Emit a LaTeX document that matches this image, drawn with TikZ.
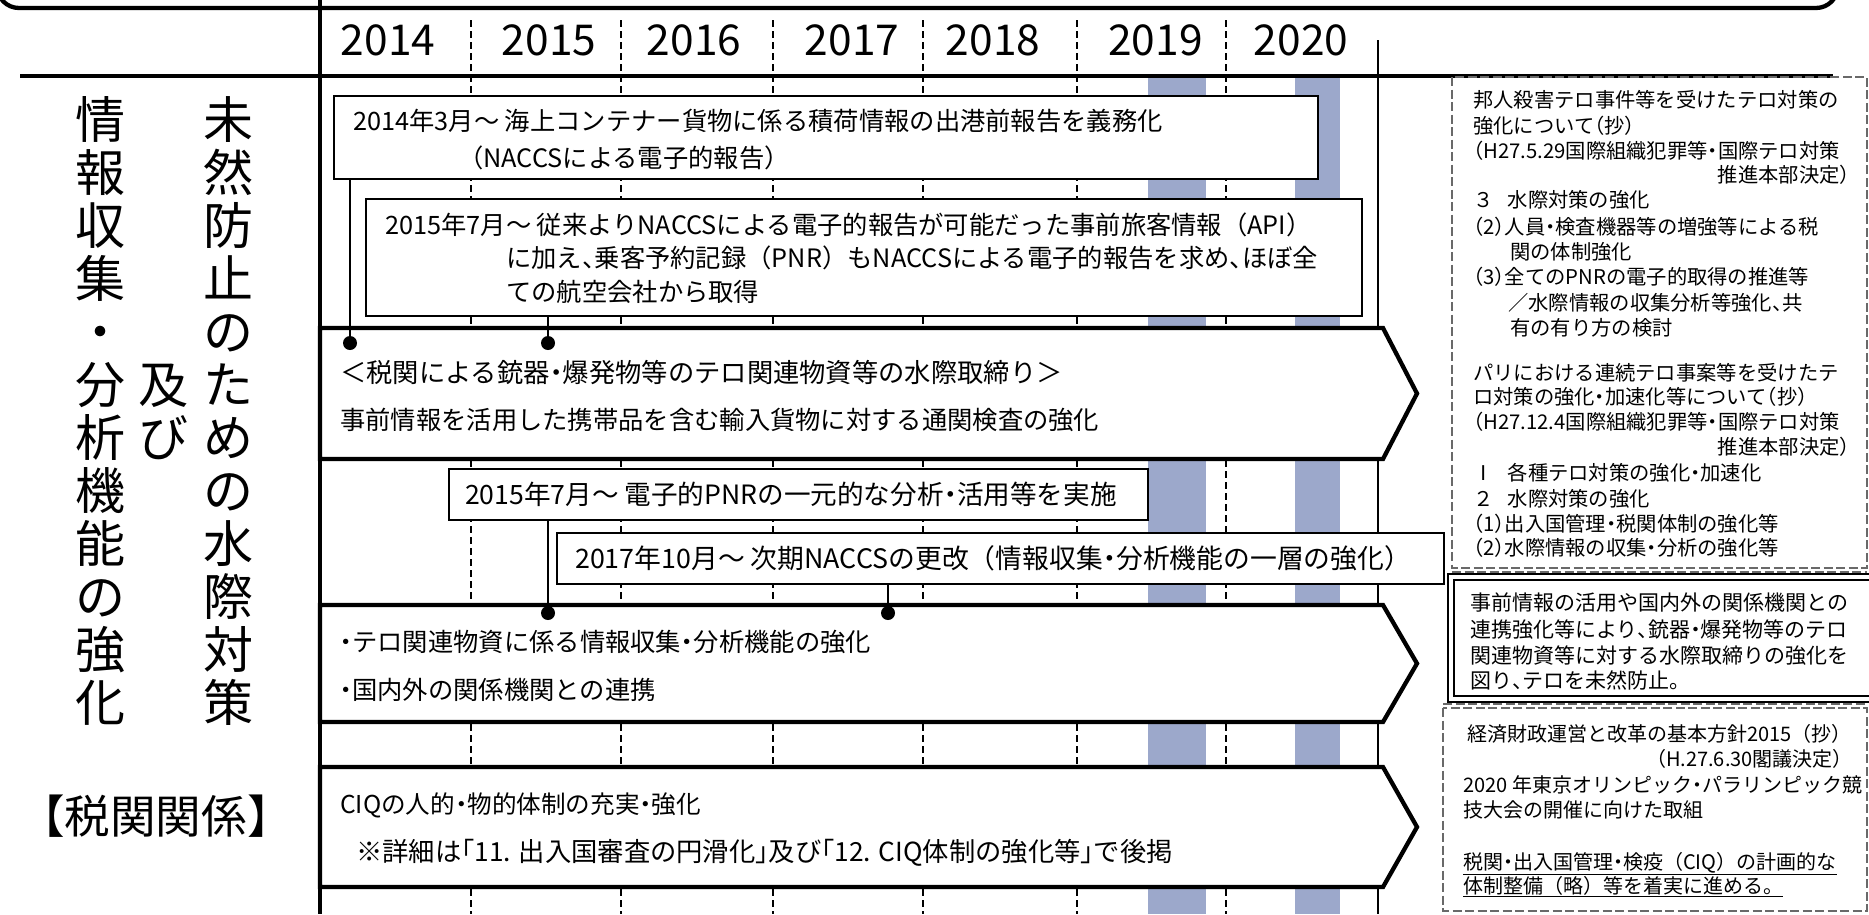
\documentclass[tikz,border=0pt]{standalone}
\usepackage{fontspec}
\setmainfont{Noto Sans CJK JP}
\definecolor{shadecol}{RGB}{156,168,203}
\definecolor{dgray}{RGB}{105,105,105}
\newcommand{\hdot}{\makebox[0.5em][c]{・}}
\newcommand{\hcomma}{\makebox[0.5em][l]{、}}
\newcommand{\hlp}{\makebox[0.5em][r]{（}}
\newcommand{\hrp}{\makebox[0.5em][l]{）}}
\newcommand{\hlb}{\makebox[0.5em][r]{「}}
\newcommand{\hrb}{\makebox[0.5em][l]{」}}
\tikzset{
 heavy/.style={line width=4.3pt},
 divider/.style={line width=1.3pt, dash pattern=on 7pt off 4pt},
 shadecolumn/.style={fill=shadecol, draw=none},
 evbox/.style={draw, fill=white, line width=1.7pt, inner sep=0pt, anchor=north west},
 chev/.style={draw, fill=white, line width=4.3pt, line join=miter, miter limit=10},
 conn/.style={line width=1.8pt},
 dotnode/.style={circle, fill=black, inner sep=0pt, minimum size=14pt},
 tl/.style={font=\fontsize{25.3}{30}\selectfont, inner sep=0pt, anchor=base west},
 tlsize/.style={font=\fontsize{#1}{30}\selectfont},
 yr/.style={font=\fontsize{42.5}{45}\selectfont, inner sep=0pt, anchor=base},
 vchar/.style={font=\fontsize{50}{50}\selectfont, inner sep=0pt, text height=0.88em, text depth=0.12em},
 rp/.style={font=\fontsize{20.3}{24}\selectfont, inner sep=0pt, anchor=base west},
 rpe/.style={rp, anchor=base east},
 dbx/.style={font=\fontsize{21}{24}\selectfont, inner sep=0pt, anchor=base west},
 bxt/.style={font=\fontsize{20}{24}\selectfont, inner sep=0pt, anchor=base west},
 bxte/.style={bxt, anchor=base east},
 dashbox/.style={draw=dgray, line width=1.3pt, dash pattern=on 9pt off 3.5pt},
 bigl/.style={font=\fontsize{45.6}{50}\selectfont, inner sep=0pt},
}
\begin{document}
\begin{tikzpicture}[x=1pt,y=-1pt]
\useasboundingbox (0,0) rectangle (1869,914);
% shaded year columns
\fill[shadecolumn] (1148,78) rectangle (1206,914);
\fill[shadecolumn] (1295,78) rectangle (1340,914);
% year dividers
\foreach \xx in {471,621,773,923,1077,1226} \draw[divider] (\xx,20) -- (\xx,914);
% right border of timeline
\draw[line width=2.5pt] (1378,40) -- (1378,914);
% frame
\draw[heavy, rounded corners=22pt] (-3,-60) rectangle (1838,8);
\draw[heavy] (320,0) -- (320,914);
\draw[heavy] (20,76) -- (1833,76);
% years
\node[yr] (y14) at (388,55) {2014};
\node[yr] (y15) at (549,55) {2015};
\node[yr] (y16) at (694,55) {2016};
\node[yr] (y17) at (852,55) {2017};
\node[yr] (y18) at (993,55) {2018};
\node[yr] (y19) at (1155.5,55) {2019};
\node[yr] (y20) at (1301,55) {2020};
% chevrons
\draw[chev] (320,328) -- (1383,328) -- (1417,393.5) -- (1383,459) -- (320,459) -- cycle;
\draw[chev] (320,605) -- (1383,605) -- (1417,663.5) -- (1383,722) -- (320,722) -- cycle;
\draw[chev] (320,767) -- (1383,767) -- (1417,827) -- (1383,887) -- (320,887) -- cycle;
% event boxes
\node[evbox, minimum width=984pt, minimum height=83pt] (b1) at (333,95) {};
\node[evbox, minimum width=996pt, minimum height=117pt] (b2) at (365,198) {};
\node[evbox, minimum width=699pt, minimum height=51pt] (b3) at (448,468) {};
\node[evbox, minimum width=887pt, minimum height=51pt] (b4) at (556,532) {};
% dots and connectors
\node[dotnode] (d1) at (350,343) {};
\node[dotnode] (d2) at (548,343) {};
\node[dotnode] (d3) at (548,613) {};
\node[dotnode] (d4) at (888,613) {};
\draw[conn] (b1.south -| d1) -- (d1);
\draw[conn] (b2.south -| d2) -- (d2);
\draw[conn] (b3.south -| d3) -- (d3);
\draw[conn] (b4.south -| d4) -- (d4);
% timeline texts
\node[tl] (t1a) at (353,130) {2014年3月～ 海上コンテナー貨物に係る積荷情報の出港前報告を義務化};
\node[tl] (t1b) at (458,167) {（NACCSによる電子的報告）};
\node[tl] (t2a) at (385,234) {2015年7月～ 従来よりNACCSによる電子的報告が可能だった事前旅客情報（API）};
\node[tl] (t2b) at (506,267) {に加え\hcomma 乗客予約記録（PNR）もNACCSによる電子的報告を求め\hcomma ほぼ全};
\node[tl] (t2c) at (506,301) {ての航空会社から取得};
\node[tl, tlsize=26.3] (c1a) at (340,382) {＜税関による銃器\hdot 爆発物等のテロ関連物資等の水際取締り＞};
\node[tl] (c1b) at (340,429) {事前情報を活用した携帯品を含む輸入貨物に対する通関検査の強化};
\node[tl, tlsize=26.6] (t3) at (465,504) {2015年7月～ 電子的PNRの一元的な分析\hdot 活用等を実施};
\node[tl, tlsize=26.8] (t4) at (575,568) {2017年10月～ 次期NACCSの更改（情報収集\hdot 分析機能の一層の強化）};
\node[tl] (c2a) at (339.5,651) {\hdot テロ関連物資に係る情報収集\hdot 分析機能の強化};
\node[tl] (c2b) at (339.5,699) {\hdot 国内外の関係機関との連携};
\node[tl, tlsize=24.6] (c3a) at (340,813) {CIQの人的\hdot 物的体制の充実\hdot 強化};
\node[tl, tlsize=26.3] (c3b) at (356,861) {※詳細は\hlb 11. 出入国審査の円滑化\hrb 及び\hlb 12. CIQ体制の強化等\hrb で後掲};
% left vertical titles
\foreach \ch [count=\i from 0] in {情,報,収,集,・,分,析,機,能,の,強,化}
  \node[vchar] (L\i) at (100,{134.5+53*\i}) {\ch};
\foreach \ch [count=\i from 0] in {未,然,防,止,の,た,め,の,水,際,対,策}
  \node[vchar] (R\i) at (228,{134.5+53*\i}) {\ch};
\node[vchar] (M0) at (163,399.5) {及};
\node[vchar] (M1) at (163,452.5) {び};
\node[bigl] (zk) at (156,816) {【税関関係】};
% right panel boxes
\draw[dashbox] (1452,77) rectangle (1867,568);
\draw[dashbox] (1452,572) -- (1867,572);
\draw[line width=1.8pt] (1448,574) rectangle (1880,702);
\draw[line width=1.8pt] (1454,580) rectangle (1874,696);
\draw[dashbox] (1443,704) -- (1867,704);
\draw[dashbox] (1443,708) rectangle (1867,911);
% right panel texts
\node[rp] (r1) at (1473,107.5) {邦人殺害テロ事件等を受けたテロ対策の};
\node[rp] (r2) at (1473,133) {強化について\hlp 抄\hrp};
\node[rp] (r3) at (1473,158) {\hlp H27.5.29国際組織犯罪等\hdot 国際テロ対策};
\node[rpe] (r4) at (1850,182) {推進本部決定\hrp};
\node[rp] (r5) at (1473,207) {\makebox[1.7em][l]{３}水際対策の強化};
\node[rp] (r6) at (1473,234) {\hlp 2\hrp 人員\hdot 検査機器等の増強等による税};
\node[rp] (r7) at (1510,259) {関の体制強化};
\node[rp] (r8) at (1473,284) {\hlp 3\hrp 全てのPNRの電子的取得の推進等};
\node[rp] (r9) at (1508,310) {／水際情報の収集分析等強化\hcomma 共};
\node[rp] (r10) at (1510,335) {有の有り方の検討};
\node[rp] (r11) at (1473,380) {パリにおける連続テロ事案等を受けたテ};
\node[rp] (r12) at (1473,404) {ロ対策の強化\hdot 加速化等について\hlp 抄\hrp};
\node[rp] (r13) at (1473,429) {\hlp H27.12.4国際組織犯罪等\hdot 国際テロ対策};
\node[rpe] (r14) at (1850,454) {推進本部決定\hrp};
\node[rp] (r15) at (1473,480) {\makebox[1.7em][l]{Ⅰ}各種テロ対策の強化\hdot 加速化};
\node[rp] (r16) at (1473,506) {\makebox[1.7em][l]{２}水際対策の強化};
\node[rp] (r17) at (1473,531) {\hlp 1\hrp 出入国管理\hdot 税関体制の強化等};
\node[rp] (r18) at (1473,555) {\hlp 2\hrp 水際情報の収集\hdot 分析の強化等};
\node[dbx] (q1) at (1470,610) {事前情報の活用や国内外の関係機関との};
\node[dbx] (q2) at (1470,637) {連携強化等により\hcomma 銃器\hdot 爆発物等のテロ};
\node[dbx] (q3) at (1470,663) {関連物資等に対する水際取締りの強化を};
\node[dbx] (q4) at (1470,688) {図り\hcomma テロを未然防止。};
\node[bxt] (s1) at (1467,741) {経済財政運営と改革の基本方針2015（抄）};
\node[bxte] (s2) at (1853,766) {（H.27.6.30閣議決定）};
\node[bxt] (s3) at (1463,792) {2020 年東京オリンピック\hdot パラリンピック競};
\node[bxt] (s4) at (1463,817) {技大会の開催に向けた取組};
\node[bxt] (s5) at (1463,869) {\underline{税関\hdot 出入国管理\hdot 検疫（CIQ）の計画的な}};
\node[bxt] (s6) at (1463,893) {\underline{体制整備（略）等を着実に進める。}};
\end{tikzpicture}
\end{document}
